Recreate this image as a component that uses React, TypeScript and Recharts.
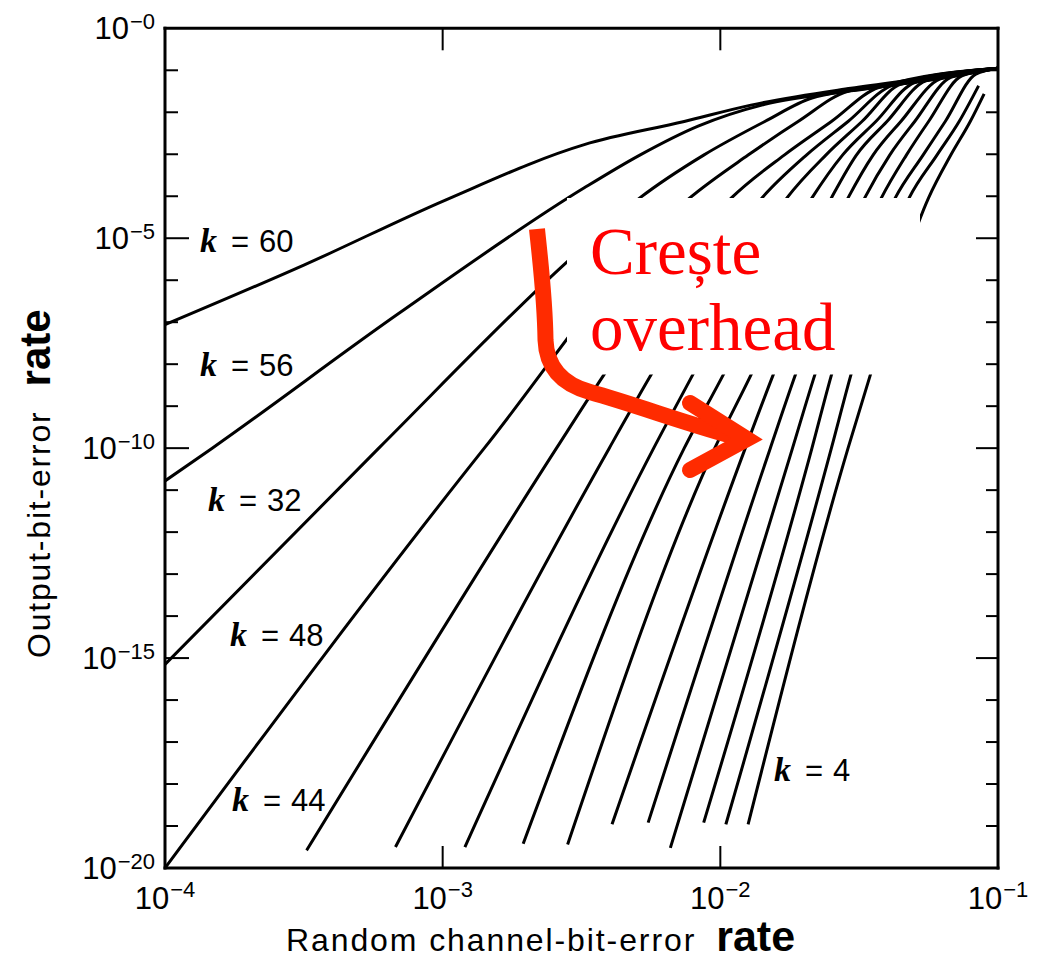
import React from 'react';
import { LineChart, Line, XAxis, YAxis } from 'recharts';

// x = log10(random channel-bit-error rate), y = log10(output-bit-error rate)
const X_TICKS = [-4, -3, -2, -1];
const X_TICK_EXP = ['−4', '−3', '−2', '−1'];
const Y_TICKS = [0, -1, -2, -3, -4, -5, -6, -7, -8, -9, -10, -11, -12, -13, -14, -15, -16, -17, -18, -19, -20];
const Y_LABEL_TICKS = [0, -5, -10, -15, -20];
const Y_TICK_EXP = ['−0', '−5', '−10', '−15', '−20'];

const K_VALUES = [60, 56, 52, 48, 44, 40, 36, 32, 28, 24, 20, 16, 12, 8, 4];

const K60 = [[-4, -7.06], [-3.5, -5.64], [-2.99, -4.09], [-2.49, -2.77], [-2.13, -2.22], [-1.89, -1.83], [-1.53, -1.43], [-1.29, -1.21], [-1, -0.95]];
const K56 = [[-4, -10.78], [-3.83, -10.0], [-3.16, -6.8], [-2.49, -3.8], [-2.29, -3.02], [-2.08, -2.33], [-1.84, -1.81], [-1.53, -1.49], [-1.29, -1.27], [-1, -0.95]];
const K52 = [[-4, -15.15], [-3.23, -10.0], [-2.55, -5.55], [-2.29, -4.04], [-2.06, -3.02], [-1.84, -2.22], [-1.67, -1.66], [-1.36, -1.34], [-1, -0.95]];
const K48 = [[-4, -20], [-2.85, -10.0], [-2.11, -4.04], [-1.9, -3.02], [-1.72, -2.22], [-1.54, -1.5], [-1.25, -1.24], [-1, -0.95]];
const K44 = [[-3.49, -19.58], [-2.59, -10.0], [-2.42, -8.26], [-1.96, -4.04], [-1.77, -3.02], [-1.6, -2.22], [-1.43, -1.41], [-1, -0.95]];
const K40 = [[-3.17, -19.5], [-2.4, -10.0], [-2.25, -8.26], [-1.85, -4.04], [-1.69, -3.02], [-1.54, -2.22], [-1.38, -1.36], [-1, -0.95]];
const K36 = [[-2.92, -19.5], [-2.24, -10.0], [-2.1, -8.26], [-1.76, -4.04], [-1.62, -3.02], [-1.49, -2.22], [-1.35, -1.33], [-1, -0.95]];
const K32 = [[-2.71, -19.42], [-2.13, -10.0], [-1.99, -8.26], [-1.67, -4.04], [-1.56, -3.02], [-1.44, -2.22], [-1.3, -1.29], [-1, -0.95]];
const K28 = [[-2.55, -19.44], [-2.02, -10.0], [-1.89, -8.26], [-1.6, -4.04], [-1.51, -3.02], [-1.4, -2.22], [-1.26, -1.25], [-1, -0.95]];
const K24 = [[-2.39, -18.96], [-1.91, -10.0], [-1.81, -8.26], [-1.54, -4.04], [-1.45, -3.02], [-1.35, -2.22], [-1.21, -1.21], [-1, -0.95]];
const K20 = [[-2.26, -18.92], [-1.82, -10.0], [-1.73, -8.26], [-1.48, -4.04], [-1.39, -3.02], [-1.3, -2.22], [-1.17, -1.17], [-1, -0.95]];
const K16 = [[-2.18, -19.52], [-1.74, -10.0], [-1.66, -8.26], [-1.42, -4.04], [-1.33, -3.02], [-1.25, -2.22], [-1.13, -1.13], [-1, -0.95]];
const K12 = [[-2.06, -18.92], [-1.67, -10.0], [-1.6, -8.26], [-1.37, -4.04], [-1.27, -3.02], [-1.19, -2.22], [-1.08, -1.09], [-1, -0.95]];
const K8 = [[-1.98, -18.96], [-1.6, -10.0], [-1.53, -8.26], [-1.32, -4.04], [-1.22, -3.02], [-1.14, -2.22], [-1.07, -1.37]];
const K4 = [[-1.9, -18.96], [-1.54, -10.0], [-1.46, -8.26], [-1.25, -4.04], [-1.17, -3.02], [-1.1, -2.22], [-1.05, -1.56]];

const CURVES = [K60, K56, K52, K48, K44, K40, K36, K32, K28, K24, K20, K16, K12, K8, K4];

const K_LABELS = ['60', '56', '32', '48', '44', '4'];
const X_TITLE = 'Random channel-bit-error';
const Y_TITLE = 'Output-bit-error';
const TITLE_BOLD = 'rate';
const NOTE_LINES = ['Crește', 'overhead'];

const SANS = "'Liberation Sans', Arial, Helvetica, sans-serif";
const SERIF = "'Liberation Serif', 'Times New Roman', serif";
const RED_TEXT = '#ff0000';
const RED_ARROW = '#ff2b00';

const BottomTick = (props: any) => {
  const { x, y, payload } = props;
  const i = X_TICKS.indexOf(payload.value);
  const inner = payload.value > -4 && payload.value < -1;
  return (
    <g>
      {inner && <line x1={x} y1={y} x2={x} y2={y - 22} stroke="#000" strokeWidth={2} />}
      <text x={x} y={y + 41} textAnchor="middle" fontFamily={SANS} fontSize={31} fill="#000">
        10<tspan fontSize={22} dx={1} dy={-12}>{X_TICK_EXP[i]}</tspan>
      </text>
    </g>
  );
};

const TopTick = (props: any) => {
  const { x, y } = props;
  return <line x1={x} y1={y} x2={x} y2={y + 22} stroke="#000" strokeWidth={2} />;
};

const LeftTick = (props: any) => {
  const { x, y, payload } = props;
  const v = payload.value;
  const li = Y_LABEL_TICKS.indexOf(v);
  const major = li >= 0;
  const corner = v === 0 || v === -20;
  return (
    <g>
      {!corner && <line x1={x} y1={y} x2={x + (major ? 24 : 13)} y2={y} stroke="#000" strokeWidth={2} />}
      {major && (
        <text x={x - 10} y={y + 11} textAnchor="end" fontFamily={SANS} fontSize={31} fill="#000">
          10<tspan fontSize={22} dx={1} dy={-10}>{Y_TICK_EXP[li]}</tspan>
        </text>
      )}
    </g>
  );
};

const RightTick = (props: any) => {
  const { x, y, payload } = props;
  const v = payload.value;
  const major = Y_LABEL_TICKS.indexOf(v) >= 0;
  const corner = v === 0 || v === -20;
  if (corner) return <g />;
  return <line x1={x} y1={y} x2={x - (major ? 22 : 12)} y2={y} stroke="#000" strokeWidth={2} />;
};

const AXIS_LINE = { stroke: '#000', strokeWidth: 3, strokeLinecap: 'square' as const };

const KLabel = ({ x, y, text }: { x: number; y: number; text: string }) => (
  <g>
    <text x={x} y={y} fontFamily={SERIF} fontStyle="italic" fontWeight="bold" fontSize={34} fill="#000">k</text>
    <text x={x + 31} y={y} fontFamily={SANS} fontSize={31} fill="#000">=</text>
    <text x={x + 59} y={y} fontFamily={SANS} fontSize={31} fill="#000">{text}</text>
  </g>
);

const K_LABEL_POS = [
  [200, 252],
  [200, 376],
  [208, 511],
  [230, 646],
  [232, 811],
  [774, 781],
];

export default function App() {
  return (
    <div style={{ position: 'relative', width: 1040, height: 952, fontFamily: SANS }}>
      <LineChart width={1040} height={952} margin={{ top: 0, right: 0, bottom: 0, left: 0 }}>
        <XAxis
          xAxisId="b"
          type="number"
          dataKey="x"
          domain={[-4, -1]}
          ticks={X_TICKS}
          allowDataOverflow
          orientation="bottom"
          height={92}
          tickSize={0}
          tickMargin={0}
          interval={0}
          axisLine={AXIS_LINE}
          tickLine={false}
          tick={BottomTick}
        />
        <XAxis
          xAxisId="t"
          type="number"
          dataKey="x"
          domain={[-4, -1]}
          ticks={[-3, -2]}
          allowDataOverflow
          orientation="top"
          height={20.3}
          tickSize={0}
          tickMargin={0}
          interval={0}
          axisLine={AXIS_LINE}
          tickLine={false}
          tick={TopTick}
        />
        <YAxis
          yAxisId="l"
          type="number"
          domain={[-20, 0]}
          ticks={Y_TICKS}
          allowDataOverflow
          orientation="left"
          width={157}
          tickSize={0}
          tickMargin={0}
          interval={0}
          axisLine={AXIS_LINE}
          tickLine={false}
          tick={LeftTick}
        />
        <YAxis
          yAxisId="r"
          type="number"
          domain={[-20, 0]}
          ticks={Y_TICKS}
          allowDataOverflow
          orientation="right"
          width={50}
          tickSize={0}
          tickMargin={0}
          interval={0}
          axisLine={AXIS_LINE}
          tickLine={false}
          tick={RightTick}
        />
        {CURVES.map((c, i) => (
          <Line
            key={K_VALUES[i]}
            name={`k = ${K_VALUES[i]}`}
            xAxisId="b"
            yAxisId="l"
            data={c.map(([x, y]) => ({ x, y }))}
            dataKey="y"
            type="monotone"
            stroke="#000"
            strokeWidth={3}
            dot={false}
            activeDot={false}
            isAnimationActive={false}
          />
        ))}
      </LineChart>
      <svg
        width={1040}
        height={952}
        style={{ position: 'absolute', left: 0, top: 0, pointerEvents: 'none' }}
      >
        <g transform="translate(-8 -8)">
          {K_LABELS.map((t, i) => (
            <KLabel key={t + i} x={K_LABEL_POS[i][0]} y={K_LABEL_POS[i][1]} text={t} />
          ))}
          <rect x={567} y={198} width={353} height={176.5} fill="#fff" />
          <text x={590} y={274} fontFamily={SERIF} fontSize={67} fill={RED_TEXT}>{NOTE_LINES[0]}</text>
          <text x={590} y={350} fontFamily={SERIF} fontSize={67} fill={RED_TEXT}>{NOTE_LINES[1]}</text>
          <path
            d="M 537 229 C 541 268, 545 300, 545.5 340 Q 547 380, 590 392 C 640 406, 695 427, 744 439"
            fill="none"
            stroke={RED_ARROW}
            strokeWidth={16}
            strokeLinecap="butt"
          />
          <path
            d="M 690 403 L 747 439 L 690 470"
            fill="none"
            stroke={RED_ARROW}
            strokeWidth={16}
            strokeLinecap="round"
            strokeLinejoin="miter"
            strokeMiterlimit={4}
          />
          <text x={286} y={951} fontFamily={SANS} fontSize={32} letterSpacing={1.9} fill="#000">
            {X_TITLE}
            <tspan dx={20} fontWeight="bold" fontSize={43} letterSpacing={0}>{TITLE_BOLD}</tspan>
          </text>
          <text
            x={50}
            y={658}
            transform="rotate(-90 50 658)"
            fontFamily={SANS}
            fontSize={32}
            letterSpacing={1.8}
            fill="#000"
          >
            {Y_TITLE}
            <tspan dx={24} fontWeight="bold" fontSize={42} letterSpacing={0}>{TITLE_BOLD}</tspan>
          </text>
        </g>
      </svg>
    </div>
  );
}
